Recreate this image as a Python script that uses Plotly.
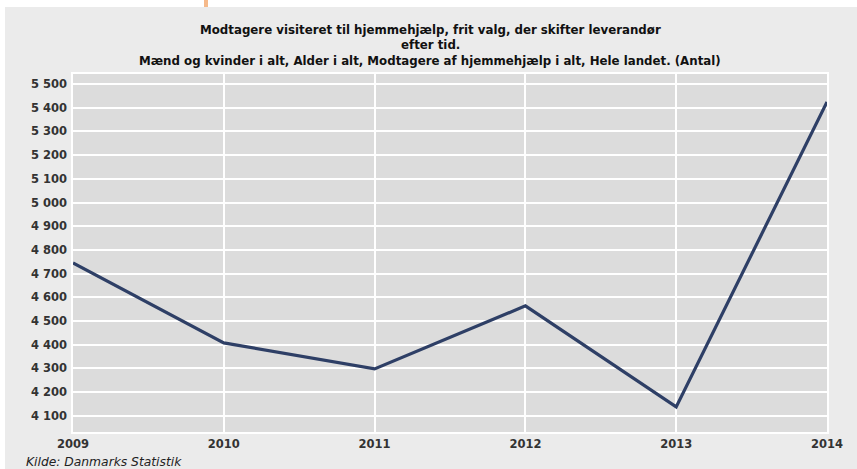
import plotly.graph_objects as go

years = [2009, 2010, 2011, 2012, 2013, 2014]
values = [4745, 4408, 4298, 4564, 4138, 5424]
y_ticks = [4100, 4200, 4300, 4400, 4500, 4600, 4700, 4800, 4900, 5000, 5100, 5200, 5300, 5400, 5500]

title_lines = ["Modtagere visiteret til hjemmehjælp, frit valg, der skifter leverandør",
               "efter tid.",
               "Mænd og kvinder i alt, Alder i alt, Modtagere af hjemmehjælp i alt, Hele landet. (Antal)"]
title_y_px = [29.5, 45, 60.5]
source_text = "Kilde: Danmarks Statistik"

W, H = 857, 469
L, R, T, B = 73, 30, 74, 37
ph = H - T - B
pw = W - L - R

def px_x(x):
    return (x - L) / pw

def px_y(y):
    return 1 - (y - T) / ph

fig = go.Figure()
fig.add_trace(go.Scatter(x=years, y=values, mode="lines",
                         line=dict(color="#2e3f66", width=3.2), hoverinfo="x+y"))

font_family = "DejaVu Sans, Verdana, sans-serif"

annotations = []
for line, ypx in zip(title_lines, title_y_px):
    annotations.append(dict(text="<b>" + line + "</b>", xref="paper", yref="paper",
                            x=px_x(430), y=px_y(ypx), xanchor="center", yanchor="middle",
                            showarrow=False, borderpad=0,
                            font=dict(size=11.8, color="#111111", family=font_family)))
annotations.append(dict(text="<i>" + source_text + "</i>", xref="paper", yref="paper",
                        x=px_x(25), y=px_y(462), xanchor="left", yanchor="middle",
                        showarrow=False, borderpad=0,
                        font=dict(size=12.3, color="#222222", family=font_family)))

fig.update_layout(
    width=W, height=H,
    margin=dict(l=L, r=R, t=T, b=B),
    paper_bgcolor="#ebebeb",
    plot_bgcolor="#dcdcdc",
    showlegend=False,
    font=dict(family=font_family, color="#333333", size=12),
    xaxis=dict(range=[2009, 2014], tickvals=years, ticktext=["<b>%d</b>" % y for y in years],
               showgrid=True, gridcolor="white", gridwidth=1.5, zeroline=False,
               showline=True, linecolor="white", linewidth=1.5, mirror=True,
               ticks="", automargin=False, tickfont=dict(size=11.5, color="#333333")),
    yaxis=dict(range=[4032, 5542], tickvals=y_ticks,
               ticktext=["<b>%s</b>" % f"{v:,}".replace(",", " ") for v in y_ticks],
               showgrid=True, gridcolor="white", gridwidth=1.5, zeroline=False,
               showline=True, linecolor="white", linewidth=1.5, mirror=True,
               ticks="", automargin=False, ticklabelstandoff=2,
               tickfont=dict(size=11.5, color="#333333")),
    shapes=[
        dict(type="rect", xref="paper", yref="paper",
             x0=px_x(-2), x1=px_x(W + 2), y0=px_y(7), y1=px_y(-2),
             fillcolor="white", line=dict(width=0), layer="below"),
        dict(type="rect", xref="paper", yref="paper",
             x0=px_x(-2), x1=px_x(5), y0=px_y(H + 2), y1=px_y(-2),
             fillcolor="white", line=dict(width=0), layer="below"),
        dict(type="rect", xref="paper", yref="paper",
             x0=px_x(204), x1=px_x(208), y0=px_y(7), y1=px_y(-2),
             fillcolor="#f5b98a", line=dict(width=0), layer="below"),
    ],
    annotations=annotations,
)

fig.write_html("out.html", config={"displayModeBar": False},
               post_script="document.body.style.margin='0px';document.body.style.padding='0px';")
